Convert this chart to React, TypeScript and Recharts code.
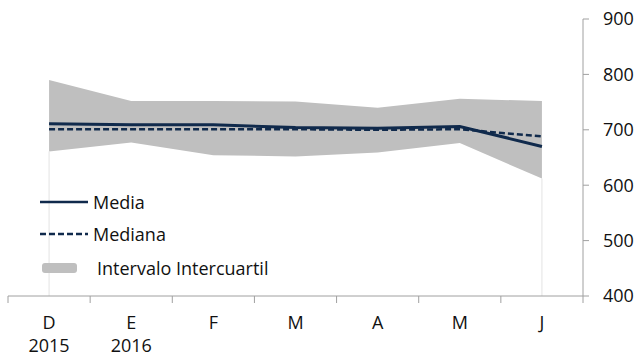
import React from 'react'
import {
  ComposedChart,
  Area,
  Line,
  XAxis,
  YAxis,
  ReferenceLine,
} from 'recharts'

const months = ['D', 'E', 'F', 'M', 'A', 'M', 'J']
const years = ['2015', '2016', '', '', '', '', '']
const media = [711, 709, 709, 704, 703, 706, 670]
const mediana = [701, 701, 701, 701, 700, 701, 688]
const q1 = [661, 677, 654, 652, 659, 676, 612]
const q3 = [790, 752, 752, 751, 740, 756, 752]
const yTicks = [400, 500, 600, 700, 800, 900]

const WIDTH = 637
const HEIGHT = 356
const LEFT = 8
const AXIS_W = 54
const TOP = 19
const X_H = 60
const NAVY = '#102a4c'
const BAND = '#bfbfbf'
const FONT = '"Open Sans", sans-serif'
const FS = 18

// unique key per column since "M" appears twice
const chartData = months.map((m, i) => ({
  key: `c${i}`,
  media: media[i],
  mediana: mediana[i],
  range: [q1[i], q3[i]],
}))

const bandW = (WIDTH - LEFT - AXIS_W) / months.length

function MonthTick(props: any) {
  const { x, index } = props
  const axisY = HEIGHT - X_H
  const left = x - bandW / 2
  return (
    <g>
      <line x1={left} x2={left} y1={axisY} y2={axisY + 7} stroke="#a0a0a0" />
      {index === months.length - 1 && (
        <line x1={x + bandW / 2} x2={x + bandW / 2} y1={axisY} y2={axisY + 7} stroke="#a0a0a0" />
      )}
      <text x={x} y={axisY + 33} textAnchor="middle" fontSize={FS} fontFamily={FONT} fill="#111">
        {months[index]}
      </text>
      {years[index] && (
        <text x={x} y={axisY + 56} textAnchor="middle" fontSize={FS} fontFamily={FONT} fill="#111">
          {years[index]}
        </text>
      )}
    </g>
  )
}

function LegendBox() {
  const row: React.CSSProperties = {
    position: 'absolute',
    left: 0,
    display: 'flex',
    alignItems: 'center',
    height: 24,
    whiteSpace: 'nowrap',
  }
  const label: React.CSSProperties = { fontFamily: FONT, fontSize: FS, color: '#111' }
  return (
    <div style={{ position: 'absolute', left: 40, top: 190, width: 280, height: 100 }}>
      <div style={{ ...row, top: 0 }}>
        <svg width={53} height={10}>
          <line x1={0} x2={48} y1={5} y2={5} stroke={NAVY} strokeWidth={2.5} />
        </svg>
        <span style={label}>Media</span>
      </div>
      <div style={{ ...row, top: 32 }}>
        <svg width={53} height={10}>
          <line x1={0} x2={48} y1={5} y2={5} stroke={NAVY} strokeWidth={2.5} strokeDasharray="6 3" />
        </svg>
        <span style={label}>Mediana</span>
      </div>
      <div style={{ ...row, top: 66 }}>
        <svg width={57} height={12}>
          <rect x={2} y={1} width={35} height={10} rx={3} fill={BAND} />
        </svg>
        <span style={label}>Intervalo Intercuartil</span>
      </div>
    </div>
  )
}

export default function App() {
  return (
    <div style={{ position: 'fixed', left: 0, top: 0, width: WIDTH, height: HEIGHT, background: '#fff' }}>
      <ComposedChart
        width={WIDTH}
        height={HEIGHT}
        data={chartData}
        margin={{ top: TOP, right: 0, left: LEFT, bottom: 0 }}
      >
        <XAxis
          dataKey="key"
          height={X_H}
          padding={{ left: bandW / 2, right: bandW / 2 }}
          axisLine={{ stroke: '#a0a0a0' }}
          tickLine={false}
          tick={<MonthTick />}
          interval={0}
        />
        <YAxis
          orientation="right"
          width={AXIS_W}
          domain={[400, 900]}
          ticks={yTicks}
          axisLine={{ stroke: '#a0a0a0' }}
          tickLine={{ stroke: '#a0a0a0' }}
          tickSize={6}
          tickMargin={14}
          tick={{ fill: '#111', fontSize: FS, fontFamily: FONT }}
        />
        <ReferenceLine
          segment={[{ x: 'c0', y: 400 }, { x: 'c0', y: q1[0] }]}
          stroke="#e3e3e3"
        />
        <ReferenceLine
          segment={[{ x: 'c6', y: 400 }, { x: 'c6', y: q1[6] }]}
          stroke="#e3e3e3"
        />
        <Area
          dataKey="range"
          stroke="none"
          fill={BAND}
          fillOpacity={1}
          isAnimationActive={false}
          activeDot={false}
        />
        <Line
          dataKey="media"
          stroke={NAVY}
          strokeWidth={3}
          dot={false}
          isAnimationActive={false}
        />
        <Line
          dataKey="mediana"
          stroke={NAVY}
          strokeWidth={2.5}
          strokeDasharray="6 3"
          dot={false}
          isAnimationActive={false}
        />
      </ComposedChart>
      <LegendBox />
    </div>
  )
}
